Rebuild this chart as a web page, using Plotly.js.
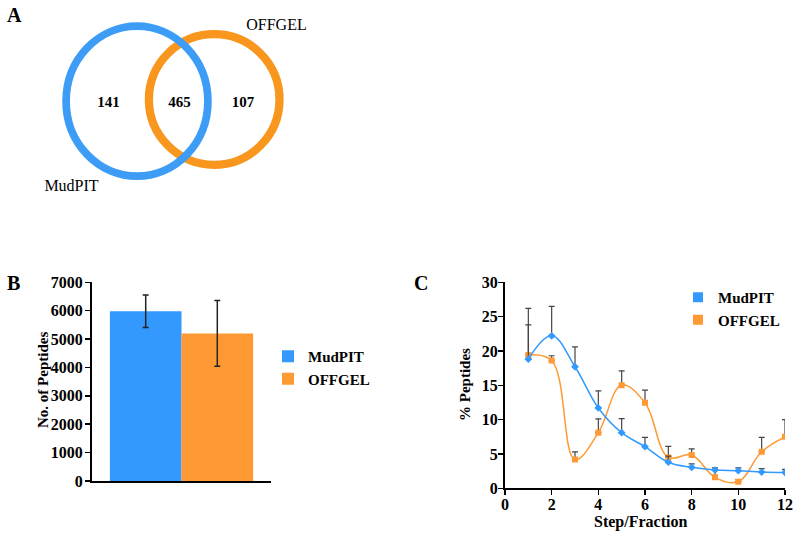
<!DOCTYPE html>
<html>
<head>
<meta charset="utf-8">
<script src="https://cdn.plot.ly/plotly-3.0.1.min.js"></script>
<style>html,body{margin:0;padding:0;background:#fff}#chart{width:800px;height:536px}</style>
</head>
<body>
<div id="chart"></div>
<script>
// ---- Panel A (Venn) ----
const vennSets = ['MudPIT', 'OFFGEL'];
const vennCounts = [141, 465, 107];   // MudPIT only, both, OFFGEL only

// ---- Panel B (bars) ----
const barCategory = ['Total'];
const barMud = [5980];
const barMudErr = [570];
const barOff = [5200];
const barOffErr = [1160];

// ---- Panel C (fractions) ----
const steps = [1, 2, 3, 4, 5, 6, 7, 8, 9, 10, 11, 12];
const mudPct = [18.8, 22.2, 17.7, 11.7, 8.1, 6.06, 3.8, 3.05, 2.66, 2.56, 2.37, 2.3];
const mudErrUp = [5.0, 4.3, 2.9, 2.5, 2.05, 1.35, 0.9, 0.5, 0.3, 0.4, 0.5, 0.45];
const offPct = [19.4, 18.6, 4.2, 8.1, 15.0, 12.46, 4.5, 4.85, 1.6, 0.97, 5.33, 7.5];
const offErrUp = [6.8, 0.7, 1.1, 2.0, 2.1, 1.85, 1.6, 0.9, 1.0, 0.3, 2.1, 2.5];

const BLUE = '#3399ff', ORANGE = '#ff9933';
const VBLUE = '#3c9cf6', VORANGE = '#f8961e';
const SERIF = 'Liberation Serif';
const boldFont = (s) => ({family: SERIF, size: s, color: '#000', weight: 'bold'});

const H = 536, W = 800;
const px = (x) => x / W;
const py = (y) => 1 - y / H;

const traces = [
  // Venn text
  {type: 'scatter', mode: 'text', x: [108.5, 179.5, 243], y: [103, 103, 103],
   text: vennCounts.map(String), textfont: boldFont(15),
   xaxis: 'x3', yaxis: 'y3', showlegend: false, hoverinfo: 'skip'},
  {type: 'scatter', mode: 'text', x: [71.5, 276.5], y: [187, 26],
   text: vennSets, textfont: {family: SERIF, size: 16, color: '#000', weight: 'normal'},
   xaxis: 'x3', yaxis: 'y3', showlegend: false, hoverinfo: 'skip'},
  // Bars
  {type: 'bar', name: 'MudPIT', x: barCategory, y: barMud, marker: {color: BLUE},
   error_y: {type: 'data', array: barMudErr, color: '#222', thickness: 1.5, width: 3},
   xaxis: 'x', yaxis: 'y', legend: 'legend'},
  {type: 'bar', name: 'OFFGEL', x: barCategory, y: barOff, marker: {color: ORANGE},
   error_y: {type: 'data', array: barOffErr, color: '#222', thickness: 1.5, width: 3},
   xaxis: 'x', yaxis: 'y', legend: 'legend'},
  // Lines
  {type: 'scatter', mode: 'lines+markers', x: steps, y: offPct,
   line: {color: ORANGE, width: 1.5, shape: 'spline', smoothing: 1.1},
   marker: {color: ORANGE, symbol: 'square', size: 6},
   error_y: {type: 'data', symmetric: false, array: offErrUp, arrayminus: offPct.map(() => 0),
             color: '#444', thickness: 1.2, width: 3},
   xaxis: 'x2', yaxis: 'y2', showlegend: false},
  {type: 'scatter', mode: 'lines+markers', x: steps, y: mudPct,
   line: {color: BLUE, width: 1.5, shape: 'spline', smoothing: 1.1},
   marker: {color: BLUE, symbol: 'diamond', size: 6},
   error_y: {type: 'data', symmetric: false, array: mudErrUp, arrayminus: mudPct.map(() => 0),
             color: '#444', thickness: 1.2, width: 3},
   xaxis: 'x2', yaxis: 'y2', showlegend: false},
  // Legend entries for C
  {type: 'scatter', mode: 'markers', name: 'MudPIT', x: [null], y: [null],
   marker: {color: BLUE, symbol: 'square', size: 10}, xaxis: 'x2', yaxis: 'y2', legend: 'legend2'},
  {type: 'scatter', mode: 'markers', name: 'OFFGEL', x: [null], y: [null],
   marker: {color: ORANGE, symbol: 'square', size: 10}, xaxis: 'x2', yaxis: 'y2', legend: 'legend2'}
];

function axisCommon() {
  return {
    showline: true, linecolor: '#000', linewidth: 2, showgrid: false, zeroline: false,
    ticks: 'outside', ticklen: 5, tickwidth: 1.5, tickcolor: '#000',
    tickfont: boldFont(16), tickprefix: '<b>', ticksuffix: '</b>', fixedrange: true
  };
}

function ann(text, x, y, size, angle) {
  return {text: '<b>' + text + '</b>', x: px(x), y: py(y), xref: 'paper', yref: 'paper', showarrow: false,
    xanchor: 'center', yanchor: 'middle', textangle: angle || 0, font: boldFont(size)};
}

const layout = {
  width: W, height: H,
  margin: {l: 0, r: 0, t: 0, b: 0},
  font: boldFont(16),
  paper_bgcolor: '#fff', plot_bgcolor: 'rgba(0,0,0,0)',
  showlegend: true,
  barmode: 'group', bargap: 0.2, bargroupgap: 0,
  hovermode: false,
  xaxis: Object.assign(axisCommon(), {domain: [px(92), px(271)], range: [-0.5, 0.5],
    ticks: '', showticklabels: false, anchor: 'y', type: 'category'}),
  yaxis: Object.assign(axisCommon(), {domain: [py(481), py(282.3)], range: [0, 7000],
    dtick: 1000, anchor: 'x', ticklabelstandoff: -1}),
  xaxis2: Object.assign(axisCommon(), {domain: [px(505), px(785)], range: [0, 12],
    dtick: 2, anchor: 'y2', ticklabelstandoff: -5}),
  yaxis2: Object.assign(axisCommon(), {domain: [py(488.3), py(282.3)], range: [0, 30],
    dtick: 5, anchor: 'x2', ticklabelstandoff: -3}),
  xaxis3: {domain: [0, 0.4], range: [0, 320], visible: false, fixedrange: true, anchor: 'y3'},
  yaxis3: {domain: [py(200), 1], range: [200, 0], visible: false, fixedrange: true, anchor: 'x3'},
  legend: {x: px(268), y: py(340), xanchor: 'left', yanchor: 'top', font: boldFont(15),
    bgcolor: 'rgba(0,0,0,0)', tracegroupgap: 0, itemwidth: 30},
  legend2: {x: px(678), y: py(281), xanchor: 'left', yanchor: 'top', font: boldFont(15),
    bgcolor: 'rgba(0,0,0,0)', tracegroupgap: 0, itemwidth: 30},
  shapes: [
    {type: 'circle', xref: 'x3', yref: 'y3', x0: 148.9, x1: 279.5, y0: 34.2, y1: 164.8,
     line: {color: VORANGE, width: 8.3}, fillcolor: 'rgba(0,0,0,0)', layer: 'below'},
    {type: 'circle', xref: 'x3', yref: 'y3', x0: 66.1, x1: 207.9, y0: 26.2, y1: 176.2,
     line: {color: VBLUE, width: 7.7}, fillcolor: 'rgba(0,0,0,0)', layer: 'below'}
  ],
  annotations: [
    ann('A', 14, 15, 20),
    ann('B', 13.5, 283, 20),
    ann('C', 420.5, 282.5, 20),
    ann('No. of Peptides', 43, 380, 15, -90),
    ann('% Peptides', 465, 385, 15, -90),
    ann('Step/Fraction', 640, 522, 16)
  ]
};

Plotly.newPlot('chart', traces, layout, {staticPlot: true, displayModeBar: false});
</script>
</body>
</html>
